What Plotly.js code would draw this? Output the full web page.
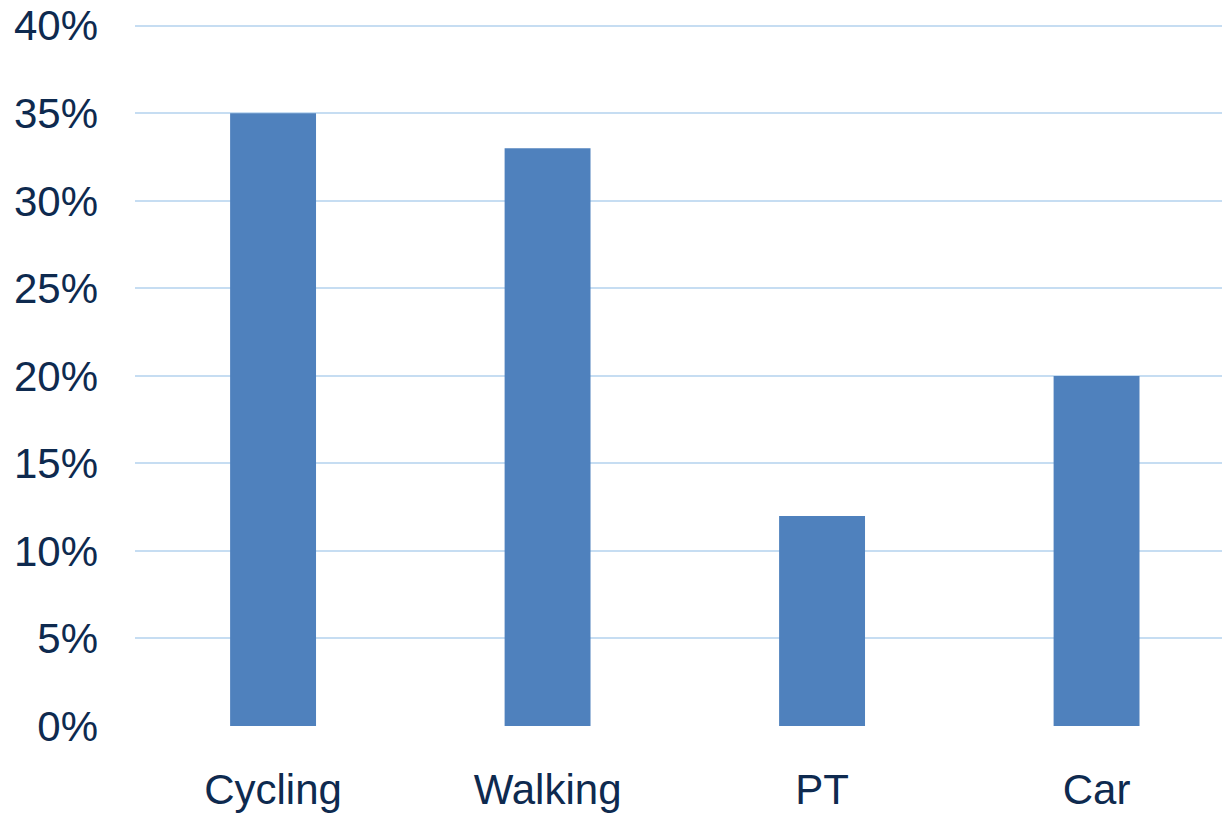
<!DOCTYPE html>
<html>
<head>
<meta charset="utf-8">
<script src="https://cdn.plot.ly/plotly-3.0.1.min.js"></script>
<style>html,body{margin:0;padding:0;background:#fff;}#chart{width:1222px;height:814px;}</style>
</head>
<body>
<div id="chart"></div>
<script>
const categories = ["Cycling", "Walking", "PT", "Car"];
const shares = [0.35, 0.33, 0.12, 0.20];
const yTickVals = [0, 0.05, 0.10, 0.15, 0.20, 0.25, 0.30, 0.35, 0.40];
const yTickText = ["0%", "5%", "10%", "15%", "20%", "25%", "30%", "35%", "40%"];

const textColor = "#0e2a4f";
const data = [{
  type: "bar",
  x: categories,
  y: shares,
  marker: {color: "#4f81bd", line: {width: 0}},
  width: 0.313,
  hoverinfo: "skip"
}];
const layout = {
  width: 1222, height: 814,
  margin: {l: 135, r: 0, t: 24, b: 88, pad: 0},
  paper_bgcolor: "#ffffff",
  plot_bgcolor: "#ffffff",
  showlegend: false,
  font: {family: "Liberation Sans, Arial, sans-serif", color: textColor, size: 42},
  xaxis: {
    type: "category",
    range: [-0.503, 3.457],
    showgrid: false,
    zeroline: false,
    showline: false,
    ticks: "",
    ticklabelstandoff: 35,
    tickfont: {size: 42, color: textColor}
  },
  yaxis: {
    range: [0, 0.401],
    tickvals: yTickVals,
    ticktext: yTickText,
    showgrid: true,
    gridcolor: "#c6ddf2",
    gridwidth: 2,
    zeroline: false,
    showline: false,
    ticks: "",
    ticklabelstandoff: 36,
    tickfont: {size: 42, color: textColor}
  }
};
Plotly.newPlot("chart", data, layout, {staticPlot: true, displayModeBar: false});
</script>
</body>
</html>
